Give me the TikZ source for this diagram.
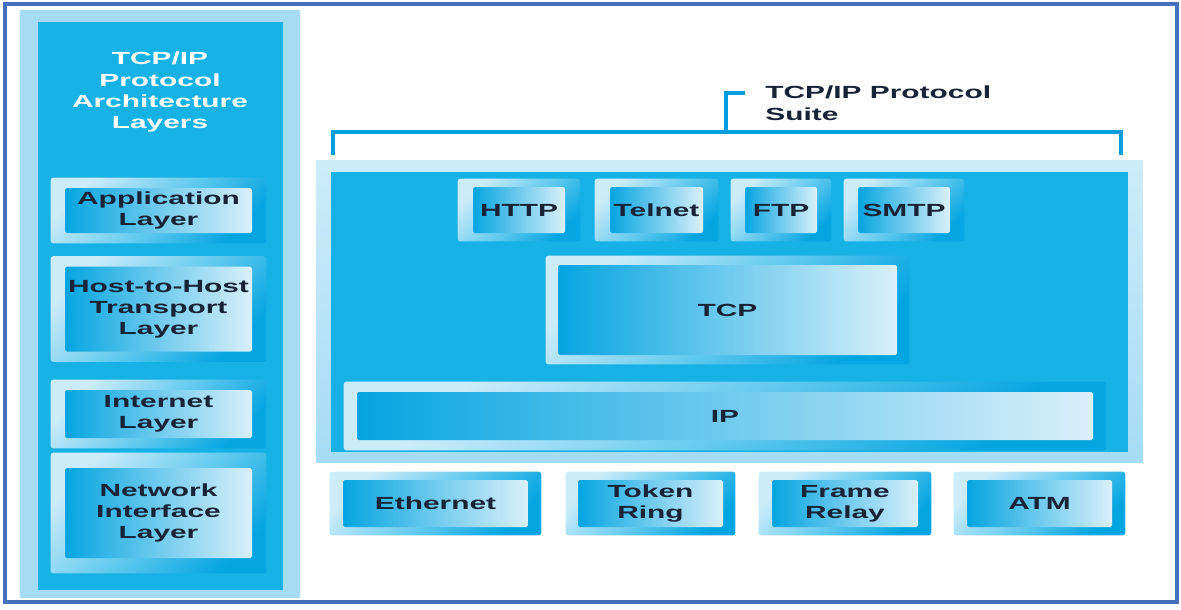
\documentclass[tikz,border=0pt]{standalone}
\usepackage{fontspec}
\setmainfont{Liberation Sans}[FakeStretch=1.7]
\usepackage{xcolor}
\usepackage{tikz}
\usetikzlibrary{positioning,fit,backgrounds}

\begin{document}
\begin{tikzpicture}
	\definecolor{panblue}{RGB}{22,178,230}
	\definecolor{panpale}{RGB}{165,220,244}
	\definecolor{bxblue}{RGB}{5,165,225}
	\definecolor{bxpale}{RGB}{218,240,250}
	\definecolor{rimpale}{RGB}{205,236,250}
	\definecolor{brblue}{RGB}{0,158,222}
	\definecolor{ink}{RGB}{25,35,55}
	\definecolor{edgeblue}{RGB}{68,112,188}
	\tikzset{
		layerbox/.style={
			rectangle,
			rounded corners=1pt,
			inner sep=0pt,
			left color=bxblue,
			right color=bxpale,
			text=ink,
			font=\bfseries\fontsize{10}{12}\selectfont,
			align=center
		},
		rimbox/.style={rectangle, rounded corners=1.5pt, top color=rimpale, bottom color=bxblue, middle color=panblue!55!rimpale, shading angle=45},
		suitebr/.style={draw=brblue, line width=2.3pt},
		edgeline/.style={draw=edgeblue, line width=1.8pt}
	}
	\useasboundingbox (0,0) rectangle (23.62,-12.18);
	
	% left column: architecture layers
	\node[text=white, inner sep=0pt, align=center, font=\bfseries\fontsize{10}{12}\selectfont] (archtitle) at (3.2,-1.84) {TCP/IP\\Protocol\\Architecture\\Layers};
	\node[layerbox, minimum width=3.74cm, minimum height=0.9cm] (app) at (3.17,-4.21) {Application\\Layer};
	\node[layerbox, minimum width=3.74cm, minimum height=1.7cm] (host) at (3.17,-6.18) {Host-to-Host\\Transport\\Layer};
	\node[layerbox, minimum width=3.74cm, minimum height=0.96cm] (inet) at (3.17,-8.28) {Internet\\Layer};
	\node[layerbox, minimum width=3.74cm, minimum height=1.8cm] (nif) at (3.17,-10.26) {Network\\Interface\\Layer};
	
	% right part: protocol suite
	\node[anchor=north west, inner sep=0pt, text=ink, align=left, font=\bfseries\fontsize{10}{12.5}\selectfont] (suitelbl) at (15.3,-1.7) {TCP/IP Protocol\\Suite};
	\node[layerbox, minimum width=1.84cm, minimum height=0.92cm] (http) at (10.38,-4.2) {HTTP};
	\node[layerbox, minimum width=1.86cm, minimum height=0.92cm] (telnet) at (13.13,-4.2) {Telnet};
	\node[layerbox, minimum width=1.44cm, minimum height=0.92cm] (ftp) at (15.62,-4.2) {FTP};
	\node[layerbox, minimum width=1.84cm, minimum height=0.92cm] (smtp) at (18.08,-4.2) {SMTP};
	\node[layerbox, minimum width=6.78cm, minimum height=1.8cm] (tcp) at (14.55,-6.2) {TCP};
	\node[layerbox, minimum width=14.72cm, minimum height=0.96cm] (ip) at (14.5,-8.32) {IP};
	
	\node[layerbox, minimum width=3.7cm, minimum height=0.94cm] (eth) at (8.71,-10.07) {Ethernet};
	\node[layerbox, minimum width=2.9cm, minimum height=0.94cm] (tok) at (13.01,-10.07) {Token\\Ring};
	\node[layerbox, minimum width=2.92cm, minimum height=0.94cm] (frm) at (16.9,-10.07) {Frame\\Relay};
	\node[layerbox, minimum width=2.9cm, minimum height=0.94cm] (atm) at (20.79,-10.07) {ATM};
	
	\begin{scope}[on background layer]
		\fill[panpale] (0.4,-0.2) rectangle (6.0,-11.96);
		\fill[panblue] (0.76,-0.44) rectangle (5.66,-11.8);
		\shade[top color=rimpale, bottom color=panpale] (6.32,-3.2) rectangle (22.86,-9.24);
		\fill[panblue] (6.62,-3.44) rectangle (22.56,-9.04);
		\foreach \n/\xs/\ys in {app/0.28/0.2, host/0.28/0.2, inet/0.28/0.2, nif/0.28/0.3,
			http/0.3/0.16, telnet/0.3/0.16, ftp/0.28/0.16, smtp/0.28/0.16,
			tcp/0.24/0.18, ip/0.26/0.2,
			eth/0.26/0.16, tok/0.24/0.16, frm/0.26/0.16, atm/0.26/0.16}
			\node[rimbox, inner xsep=\xs cm, inner ysep=\ys cm, fit=(\n)] {};
	\end{scope}
	
	% bracket over the suite
	\coordinate (brl) at (6.66,-3.1);
	\coordinate (brr) at (22.42,-3.1);
	\coordinate (brtip) at (14.9,-1.86);
	\draw[suitebr] (brl) -- (6.66,-2.64) -- (22.42,-2.64) -- (brr);
	\draw[suitebr] (14.52,-2.64) |- (brtip);
	
	\draw[edgeline] (0.1,-0.08) rectangle (23.54,-12.04);
\end{tikzpicture}
\end{document}
